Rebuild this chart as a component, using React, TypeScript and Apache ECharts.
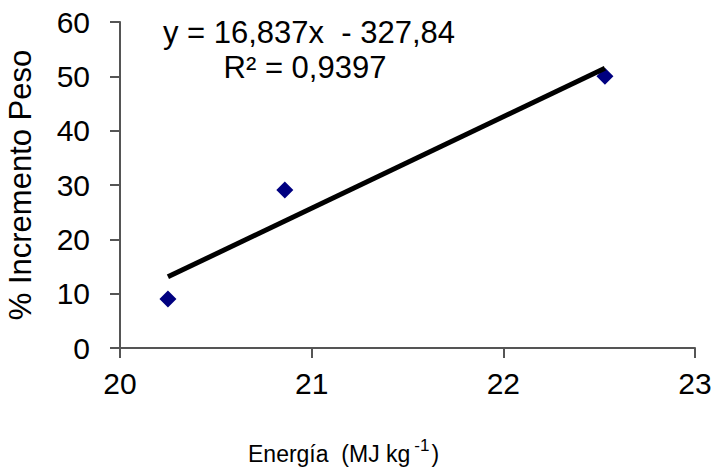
import React, { useEffect, useRef } from "react";
import * as echarts from "echarts";

const energia = [20.25, 20.86, 22.53];
const incremento = [9.0, 29.1, 50.0];
const trendX = [20.25, 22.53];
const trendY = [13.1, 51.5];
const xTicks = [20, 21, 22, 23];
const yTicks = [0, 10, 20, 30, 40, 50, 60];
const equationText = "y = 16,837x  - 327,84";
const r2Text = "R² = 0,9397";
const yTitle = "% Incremento Peso";

const FONT = "Liberation Sans, Arial, sans-serif";

export default function App() {
  const ref = useRef<HTMLDivElement>(null);
  useEffect(() => {
    document.body.style.margin = "0";
    if (!ref.current) return;
    const chart = echarts.init(ref.current, null, { renderer: "svg" });
    chart.setOption({
      animation: false,
      backgroundColor: "#ffffff",
      grid: { left: 120, top: 22, right: 18, bottom: 120, containLabel: false, outerBoundsMode: "none" },
      xAxis: {
        type: "value",
        min: xTicks[0],
        max: xTicks[xTicks.length - 1],
        interval: 1,
        axisLine: { show: true, onZero: false, lineStyle: { color: "#555555", width: 2 } },
        axisTick: { show: true, length: 10, lineStyle: { color: "#555555", width: 2 } },
        axisLabel: { margin: 20, color: "#000", fontSize: 30, fontFamily: FONT },
        splitLine: { show: false },
      },
      yAxis: {
        type: "value",
        min: yTicks[0],
        max: yTicks[yTicks.length - 1],
        interval: 10,
        name: yTitle,
        nameLocation: "middle",
        nameGap: 84,
        nameRotate: 90,
        nameTextStyle: { color: "#000", fontSize: 31, fontFamily: FONT },
        axisLine: { show: true, onZero: false, lineStyle: { color: "#555555", width: 2 } },
        axisTick: { show: true, length: 10, lineStyle: { color: "#555555", width: 2 } },
        axisLabel: { margin: 30, color: "#000", fontSize: 30, fontFamily: FONT },
        splitLine: { show: false },
      },
      series: [
        {
          type: "scatter",
          data: energia.map((x, i) => [x, incremento[i]]),
          symbol: "diamond",
          symbolSize: [17, 17],
          itemStyle: { color: "#000080", opacity: 1 },
          z: 2,
        },
        {
          type: "line",
          data: trendX.map((x, i) => [x, trendY[i]]),
          symbol: "none",
          lineStyle: { color: "#000", width: 5 },
          z: 3,
        },
      ],
      graphic: [
        {
          type: "text",
          style: {
            text: equationText,
            x: 309,
            y: 32,
            font: `31px ${FONT}`,
            fill: "#000",
            textAlign: "center",
            textVerticalAlign: "middle",
          },
        },
        {
          type: "text",
          style: {
            text: r2Text,
            x: 305,
            y: 67,
            font: `31px ${FONT}`,
            fill: "#000",
            textAlign: "center",
            textVerticalAlign: "middle",
          },
        },
        {
          type: "text",
          style: {
            x: 248,
            y: 454,
            textVerticalAlign: "middle",
            text: "{a|Energía  (MJ kg}{s|-1}{a|)}",
            rich: {
              a: { fontSize: 23, fontFamily: FONT, fill: "#000", color: "#000" },
              s: { fontSize: 17, fontFamily: FONT, fill: "#000", color: "#000", verticalAlign: "top", padding: [0, 2, 18, 4] },
            },
          },
        },
      ],
    });
    return () => chart.dispose();
  }, []);
  return <div ref={ref} style={{ width: 713, height: 468 }} />;
}
